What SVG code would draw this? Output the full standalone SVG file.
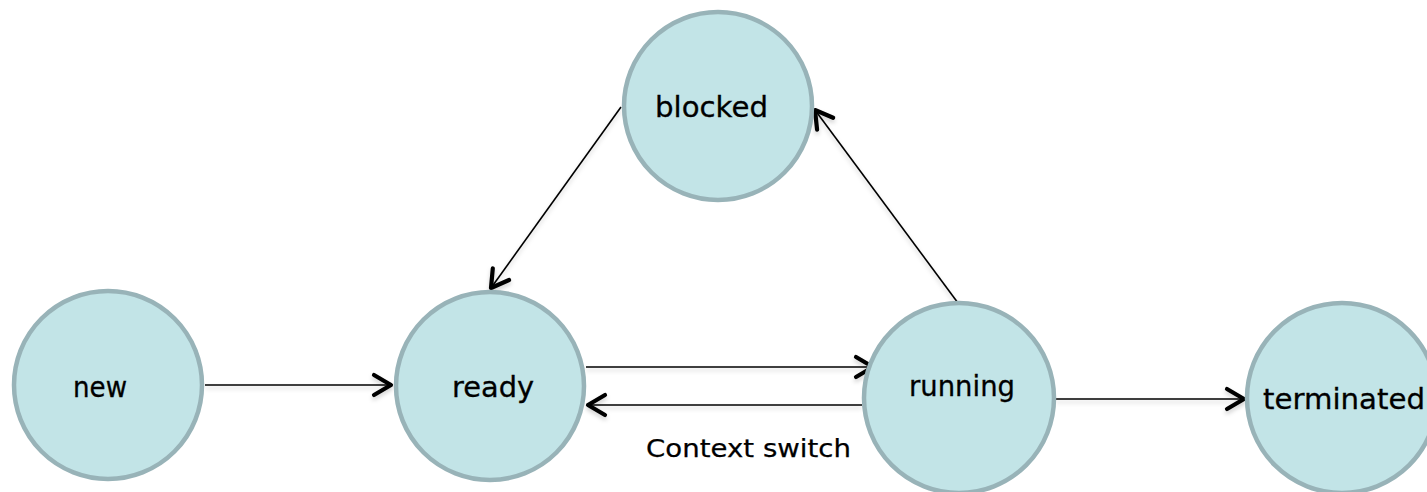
<svg xmlns="http://www.w3.org/2000/svg" width="1427" height="492" viewBox="0 0 1427 492">
  <style>
    .state { fill: #c2e4e7; stroke: #98b3b8; stroke-width: 4.5; }
    .label { font-family: "Comic Sans MS", "DejaVu Sans", "Noto Sans", sans-serif; font-size: 28px; fill: #000; stroke: #000; stroke-width: 0.3; }
    .note { font-family: "Comic Sans MS", "DejaVu Sans", "Noto Sans", sans-serif; font-size: 25px; fill: #000; stroke: #000; stroke-width: 0.25; }
    .edge { fill: none; stroke: #000; stroke-width: 1.6; marker-end: url(#chevron); }
  </style>
  <defs>
    <marker id="chevron" markerUnits="userSpaceOnUse" viewBox="-22 -14 26 28" refX="0" refY="0" markerWidth="26" markerHeight="28" orient="auto" overflow="visible">
      <path d="M-17,-10 L0,0 L-17,10" fill="none" stroke="#000" stroke-width="4.2" stroke-linecap="round" stroke-linejoin="round"/>
    </marker>
    <filter id="soft" x="-10%" y="-10%" width="120%" height="130%">
      <feDropShadow dx="0" dy="3" stdDeviation="2" flood-color="#000" flood-opacity="0.18"/>
    </filter>
  </defs>

  <!-- transitions -->
  <g id="connectors" filter="url(#soft)">
    <line class="edge" x1="205" y1="385" x2="391" y2="385"/>
    <line class="edge" x1="586" y1="367" x2="873" y2="367"/>
    <line class="edge" x1="862" y1="405" x2="588" y2="405"/>
    <line class="edge" x1="621" y1="107" x2="491" y2="288"/>
    <line class="edge" x1="958" y1="303" x2="815" y2="110"/>
    <line class="edge" x1="1056" y1="399" x2="1244" y2="399"/>
  </g>

  <g id="node-new">
    <circle class="state" cx="108" cy="385" r="94"/>
    <text class="label" x="73" y="397" textLength="54" lengthAdjust="spacingAndGlyphs">new</text>
  </g>
  <g id="node-ready">
    <circle class="state" cx="490" cy="386" r="94"/>
    <text class="label" x="452" y="397" textLength="82" lengthAdjust="spacingAndGlyphs">ready</text>
  </g>
  <g id="node-blocked">
    <circle class="state" cx="718" cy="106" r="94"/>
    <text class="label" x="655" y="117" textLength="113" lengthAdjust="spacingAndGlyphs">blocked</text>
  </g>
  <g id="node-running">
    <circle class="state" cx="959" cy="398" r="95"/>
    <text class="label" x="909" y="396" textLength="106" lengthAdjust="spacingAndGlyphs">running</text>
  </g>
  <g id="node-terminated">
    <circle class="state" cx="1342" cy="398" r="95"/>
    <text class="label" x="1263" y="409" textLength="162" lengthAdjust="spacingAndGlyphs">terminated</text>
  </g>

  <text class="note" x="646" y="457" textLength="205" lengthAdjust="spacingAndGlyphs">Context switch</text>
</svg>
